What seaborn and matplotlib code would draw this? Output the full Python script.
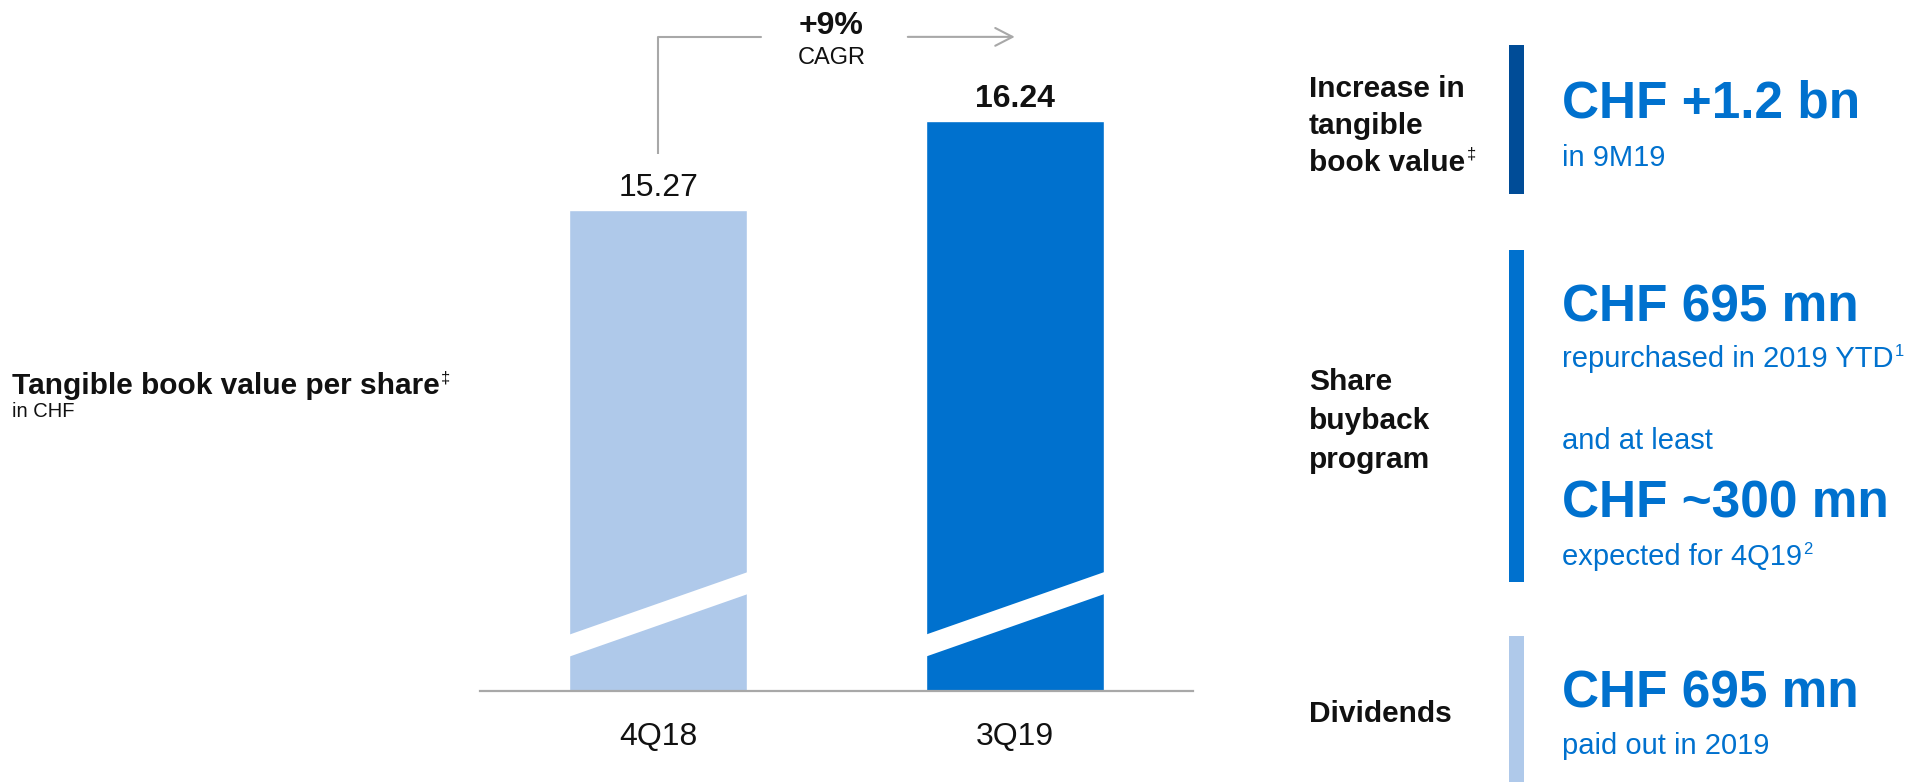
import matplotlib
matplotlib.use("Agg")
import matplotlib.pyplot as plt
import pandas as pd
import seaborn as sns
from matplotlib.patches import Polygon, Rectangle

# ---------------- data ----------------
categories = ["4Q18", "3Q19"]
values = [15.27, 16.24]
value_labels = ["15.27", "16.24"]
value_weights = ["normal", "bold"]
axis_floor = 10.0
cagr_label = "+9%"
cagr_sub = "CAGR"

left_title = "Tangible book value per share"
left_sub = "in CHF"

panel_labels = [["Increase in", "tangible", "book value"],
                ["Share", "buyback", "program"],
                ["Dividends"]]
panel_big = ["CHF +1.2 bn", "CHF 695 mn", "CHF ~300 mn", "CHF 695 mn"]
panel_small = ["in 9M19", "repurchased in 2019 YTD", "and at least",
               "expected for 4Q19", "paid out in 2019"]

# ---------------- style ----------------
W, H, DPI = 1922, 782, 100
LIGHT = "#afc9ea"
DARK = "#0071ce"
NAVY = "#004c97"
GRAY = "#a8a8a8"
BLACK = "#111111"
FONT = "Liberation Sans"

sns.set_theme(style="white")
plt.rcParams["font.family"] = [FONT, "DejaVu Sans"]

fig = plt.figure(figsize=(W / DPI, H / DPI), dpi=DPI)
fig.patch.set_facecolor("white")


def fx(px):
    return px / W


def fy(py):
    return 1 - py / H


# ---------------- bar chart ----------------
ax = fig.add_axes([fx(480), fy(691), fx(1193) - fx(480), fy(0) - fy(691)])
df = pd.DataFrame({"period": categories, "tbvps": values})
sns.barplot(data=df, x="period", y="tbvps", hue="period", order=categories,
            hue_order=categories, palette=[LIGHT, DARK], width=0.5,
            saturation=1, legend=False, ax=ax)
ax.set_ylim(axis_floor, 17.57)
ax.set_xlim(-0.5, 1.5)
ax.set_xlabel("")
ax.set_ylabel("")
ax.set_yticks([])
for s in ["top", "left", "right"]:
    ax.spines[s].set_visible(False)
ax.spines["bottom"].set_color(GRAY)
ax.spines["bottom"].set_linewidth(1.6)
ax.tick_params(axis="x", length=0, pad=22, labelsize=23, labelcolor=BLACK)
ax.set_facecolor("none")

# axis-break white bands
for p in ax.patches:
    x0 = p.get_x()
    x1 = x0 + p.get_width()
    band = Polygon([(x0 - 0.01, 10.362), (x1 + 0.01, 11.074),
                    (x1 + 0.01, 11.315), (x0 - 0.01, 10.603)],
                   closed=True, facecolor="white", edgecolor="none", zorder=5)
    ax.add_patch(band)

# value labels
for i, (v, lab, w) in enumerate(zip(values, value_labels, value_weights)):
    ax.annotate(lab, xy=(i, v), xytext=(0, 16), textcoords="offset points",
                ha="center", va="center", fontsize=23, fontweight=w,
                color=BLACK)

# CAGR bracket
y_br = 17.166
ax.plot([0, 0], [values[0] + 0.61, y_br], color=GRAY, lw=1.5,
        solid_capstyle="butt", clip_on=False)
ax.plot([0, 0.287], [y_br, y_br], color=GRAY, lw=1.5, clip_on=False)
ax.annotate("", xy=(1.0, y_br), xytext=(0.70, y_br),
            arrowprops=dict(arrowstyle="->,head_length=0.62,head_width=0.32",
                            color=GRAY, lw=1.5, mutation_scale=20,
                            shrinkA=0, shrinkB=0), annotation_clip=False)
ax.text(0.486, 17.29, cagr_label, ha="center", va="center", fontsize=23,
        fontweight="bold", color=BLACK)
ax.text(0.486, 16.94, cagr_sub, ha="center", va="center", fontsize=17,
        color=BLACK)

# ---------------- texts ----------------
fig.canvas.draw()
renderer = fig.canvas.get_renderer()


def sup(t, s, size, color, dy=0.0):
    bb = t.get_window_extent(renderer)
    fig.text(bb.x1 / W + 0.0008, (bb.y1 - dy) / H, s, ha="left", va="top",
             fontsize=size, color=color)


t = fig.text(fx(12), fy(394), left_title, ha="left", va="baseline",
             fontsize=21.5, fontweight="bold", color=BLACK)
sup(t, "‡", 12, BLACK, dy=-2)
fig.text(fx(12), fy(417), left_sub, ha="left", va="baseline", fontsize=14.5,
         color=BLACK)

# right panel dividers
for (y0, y1, c) in [(45, 194, NAVY), (250, 582, DARK), (636, 782, LIGHT)]:
    fig.patches.append(Rectangle((fx(1509), fy(y1)), fx(15), fy(y0) - fy(y1),
                                 transform=fig.transFigure, facecolor=c,
                                 edgecolor="none"))

label_baselines = [[97, 134, 171], [390, 429, 468], [722]]
for lines, bases in zip(panel_labels, label_baselines):
    for j, (ln, b) in enumerate(zip(lines, bases)):
        tt = fig.text(fx(1309), fy(b), ln, ha="left", va="baseline",
                      fontsize=21.5, fontweight="bold", color=BLACK)
        if lines[0] == "Increase in" and j == 2:
            sup(tt, "‡", 12, BLACK, dy=-2)

big_baselines = [118, 321, 517, 708]
for txt, b in zip(panel_big, big_baselines):
    fig.text(fx(1562), fy(b), txt, ha="left", va="baseline", fontsize=37,
             fontweight="bold", color=DARK)

small_baselines = [166, 367, 449, 565, 754]
for k, (txt, b) in enumerate(zip(panel_small, small_baselines)):
    tt = fig.text(fx(1562), fy(b), txt, ha="left", va="baseline",
                  fontsize=21, color=DARK)
    if k == 1:
        sup(tt, "1", 12, DARK, dy=-1)
    if k == 3:
        sup(tt, "2", 12, DARK, dy=-1)

fig.savefig("out.png", dpi=DPI, facecolor="white")
